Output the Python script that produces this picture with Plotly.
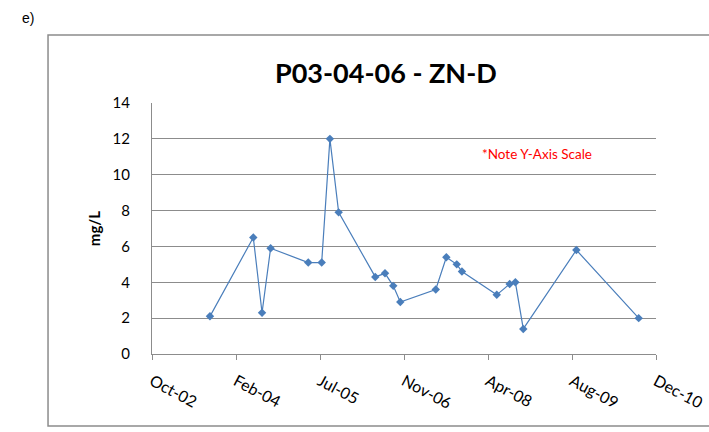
import plotly.graph_objects as go

# sample dates and dissolved zinc (mg/L)
dates = ['2003-09-20', '2004-06-04', '2004-07-26', '2004-09-15', '2005-04-27',
         '2005-07-16', '2005-09-03', '2005-10-25', '2006-05-31', '2006-07-28',
         '2006-09-15', '2006-10-27', '2007-05-26', '2007-07-28', '2007-09-28',
         '2007-10-29', '2008-05-23', '2008-08-08', '2008-09-11', '2008-10-28',
         '2009-09-09', '2010-09-15']
zn = [2.1, 6.5, 2.3, 5.9, 5.1, 5.1, 12.0, 7.9, 4.3, 4.5, 3.8, 2.9, 3.6, 5.4,
      5.0, 4.6, 3.3, 3.9, 4.0, 1.4, 5.8, 2.0]

tick_dates = ['2002-10-10', '2004-02-22', '2005-07-06', '2006-11-18',
              '2008-04-01', '2009-08-14', '2010-12-27']
tick_labels = ['Oct-02', 'Feb-04', 'Jul-05', 'Nov-06', 'Apr-08', 'Aug-09', 'Dec-10']

blue = '#4a7ebb'
grey = '#8c8c8c'
font = 'Lato, Calibri, sans-serif'

fig = go.Figure(go.Scatter(
    x=dates, y=zn, mode='lines+markers',
    line=dict(color=blue, width=1.2),
    marker=dict(symbol='diamond', size=6.5, color=blue),
    showlegend=False))

fig.update_layout(
    width=709, height=432,
    margin=dict(l=152, r=53, t=103, b=78),
    paper_bgcolor='white', plot_bgcolor='white',
    font=dict(family=font, size=14, color='black'),
    xaxis=dict(type='date', range=[tick_dates[0], tick_dates[-1]],
               tickvals=tick_dates, ticktext=tick_labels, tickangle=28,
               showgrid=False, showline=True, linecolor=grey, linewidth=1,
               ticks='outside', ticklen=5, tickcolor=grey,
               ticklabelstandoff=6, automargin=False,
               tickfont=dict(size=16), zeroline=False),
    yaxis=dict(range=[0, 14], dtick=2, showgrid=True, gridcolor=grey,
               gridwidth=1, showline=True, linecolor=grey, linewidth=1,
               ticks='', ticklabelstandoff=18, zeroline=False, automargin=False,
               tickfont=dict(size=15),
               title=dict(text='<b>mg/L</b>', font=dict(size=15), standoff=8)),
    shapes=[dict(type='rect', xref='paper', yref='paper',
                 x0=-0.2063, x1=1.12, y0=-0.2869, y1=1.271,
                 line=dict(color=grey, width=1.5))],
    annotations=[
        dict(text='<b>P03-04-06 - ZN-D</b>', xref='paper', yref='paper',
             x=0.464, y=1.122, showarrow=False, xanchor='center', yanchor='middle',
             font=dict(size=27, family=font)),
        dict(text='*Note Y-Axis Scale', xref='paper', yref='paper',
             x=0.763, y=0.795, showarrow=False, xanchor='center', yanchor='middle',
             font=dict(size=13.5, color='#ff0000', family=font)),
        dict(text='e)', xref='paper', yref='paper', x=-0.246, y=1.337,
             showarrow=False, xanchor='center', yanchor='middle',
             font=dict(size=14, family='Liberation Sans, Arial, sans-serif')),
    ])

fig.write_html('out.html', config={'displayModeBar': False},
               post_script="document.body.style.margin='0';")
